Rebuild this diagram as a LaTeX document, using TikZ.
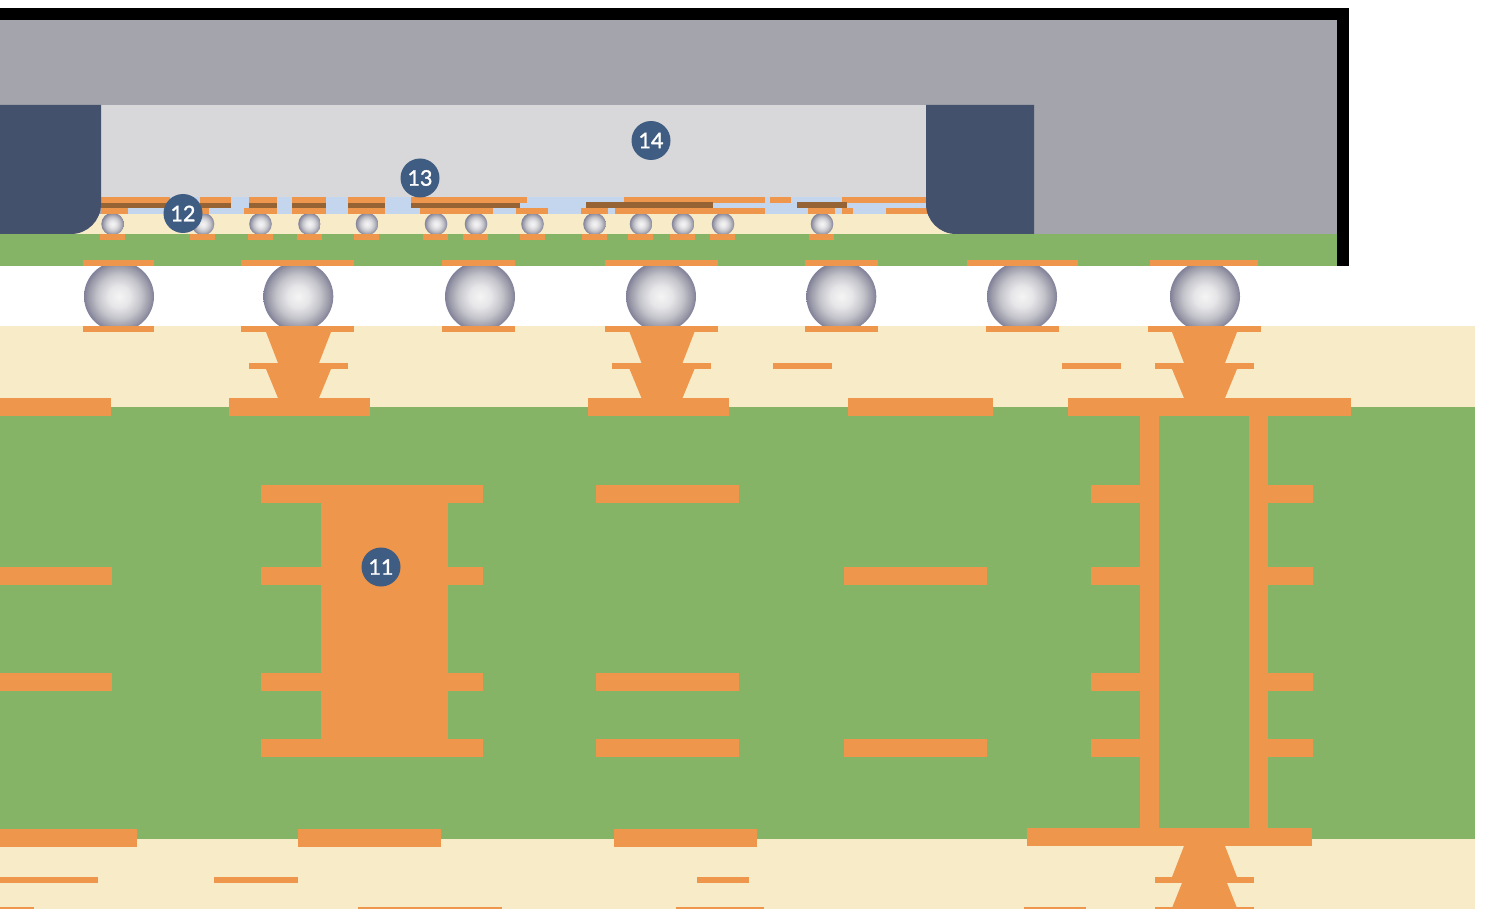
\documentclass[tikz,border=0pt]{standalone}
\usepackage{fontspec}
\setmainfont{Lato}
\newfontfamily\bdgfont[FakeBold=1.5]{Lato}
\definecolor{cu}{HTML}{EE964B}
\definecolor{brn}{HTML}{966434}
\definecolor{grn}{HTML}{86B466}
\definecolor{crm}{HTML}{F8EBC8}
\definecolor{gry}{HTML}{A4A4AD}
\definecolor{lgry}{HTML}{D8D8DA}
\definecolor{blu}{HTML}{C3D6EE}
\definecolor{nvy}{HTML}{43516D}
\definecolor{bdg}{HTML}{3F5C82}
\pgfdeclareradialshading{ballshade}{\pgfpoint{0bp}{0bp}}{
  rgb(0bp)=(0.96,0.96,0.96);
  rgb(8bp)=(0.90,0.90,0.91);
  rgb(16bp)=(0.76,0.76,0.79);
  rgb(22bp)=(0.60,0.60,0.66);
  rgb(25bp)=(0.50,0.50,0.60);
  rgb(50bp)=(0.50,0.50,0.60)}
\newcommand{\Rc}[5]{\fill[#1] (#2,#3) rectangle (#4,#5);}
\newcommand{\Pd}[3]{\fill[cu] (#2,#1) rectangle (#3,#1+6);}
\newcommand{\Pt}[3]{\fill[cu] (#2,#1) rectangle (#3,#1+18);}
\newcommand{\Ball}[3]{\shade[shading=ballshade] (#1,#2) circle[radius=#3];}
\newcommand{\Cone}[6]{\fill[cu] (#1-#3,#5) -- (#1+#3,#5) -- (#1+#4,#6) -- (#1-#4,#6) -- cycle;}
\tikzset{badge/.style={circle,fill=bdg,text=white,minimum size=39pt,inner sep=0pt,font=\bdgfont\fontsize{21.5}{21.5}\selectfont}}
\begin{document}
\begin{tikzpicture}[x=1pt,y=-1pt]
\useasboundingbox (0,0) rectangle (1488,909);
\fill[white] (0,0) rectangle (1488,909);
\Rc{black}{0}{8}{1349}{266}
\Rc{gry}{0}{20}{1337}{234}
\Rc{lgry}{101}{105}{926}{197}
\Rc{blu}{101}{197}{926}{214}
\Rc{crm}{0}{214}{1000}{234}
\Rc{grn}{0}{234}{1337}{266}
\Rc{crm}{0}{326}{1475}{407}
\Rc{grn}{0}{407}{1475}{839}
\Rc{crm}{0}{839}{1475}{909}
% small balls
\foreach \x in {112.6,203,260.5,309.5,367,436,476,532.5,594.5,641,683,723,822} {\Ball{\x}{224}{11.3}}
% large balls
\foreach \x in {119,298.3,480,661,841.3,1022,1205} {\Ball{\x}{296.5}{35}}
% redistribution layers
\foreach \a/\b in {101/170,200/231,249/277,292/326,348/385,411/527,624/765,770/791,842/926} {\Pd{197}{\a}{\b}}
\foreach \a/\b in {101/128,200/209,244/277,292/326,348/385,420/493,516/548,581/608,615/765,808/835,842/853,886/927} {\Pd{208}{\a}{\b}}
\foreach \a/\b in {101/170,200/231,249/277,292/326,348/385,411/520} {\fill[brn] (\a,203) rectangle (\b,208);}
\foreach \a/\b in {586/713,797/847} {\fill[brn] (\a,202) rectangle (\b,208);}
\foreach \a/\b in {100/125,190/215,248/273,297/322,354/379,423/448,463/488,520/545,582/607,628/653,670/695,710/735,809/834} {\Pd{234}{\a}{\b}}
% stiffener
\fill[nvy] (0,105) -- (101,105) -- (101,204) .. controls (101,220.6) and (87.6,234) .. (71,234) -- (0,234) -- cycle;
\fill[nvy] (1034,105) -- (926,105) -- (926,204) .. controls (926,220.6) and (939.4,234) .. (956,234) -- (1034,234) -- cycle;
% ball pads
\foreach \a/\b in {83/154,241/354,442/515,605/718,805/878,967/1078,1150/1258} {\Pd{260}{\a}{\b}}
\foreach \a/\b in {83/154,241/354,442/515,605/718,805/878,986/1059,1148/1261} {\Pd{326}{\a}{\b}}
% substrate build-up, top
\foreach \c in {298.5,662,1204.5} {\Cone{\c}{0}{32.5}{20.5}{332}{363}\Cone{\c}{0}{32.5}{20.5}{369}{398}}
\foreach \a/\b in {249/348,612/711,1155/1254,773/832,1062/1121} {\Pd{363}{\a}{\b}}
\foreach \a/\b in {0/111,229/370,588/729,848/993,1068/1351} {\Pt{398}{\a}{\b}}
% core
\fill[cu] (321,485) rectangle (448,757);
\foreach \a/\b in {261/483,596/739,1091/1140,1268/1313} {\Pt{485}{\a}{\b}}
\foreach \a/\b in {0/112,261/483,844/987,1091/1140,1268/1313} {\Pt{567}{\a}{\b}}
\foreach \a/\b in {0/112,261/483,596/739,1091/1140,1268/1313} {\Pt{673}{\a}{\b}}
\foreach \a/\b in {261/483,596/739,844/987,1091/1140,1268/1313} {\Pt{739}{\a}{\b}}
\fill[cu] (1140,407) rectangle (1159,839);
\fill[cu] (1249,407) rectangle (1268,839);
% bottom
\foreach \a/\b in {0/137,298/441,614/757} {\Pt{829}{\a}{\b}}
\Pt{828}{1027}{1312}
\Cone{1204.5}{0}{20.5}{32.5}{846}{877}
\Cone{1204.5}{0}{22.5}{32.5}{883}{908}
\foreach \a/\b in {0/98,214/298,697/749,1155/1254} {\Pd{877}{\a}{\b}}
\foreach \a/\b in {0/34,358/502,676/764,1024/1086,1155/1254} {\fill[cu] (\a,907) rectangle (\b,909);}
% badges
\node[badge] (b11) at (381,567) {11};
\node[badge] (b12) at (183,213.5) {12};
\node[badge] (b13) at (420,178) {13};
\node[badge] (b14) at (651,140.5) {14};
\end{tikzpicture}
\end{document}
